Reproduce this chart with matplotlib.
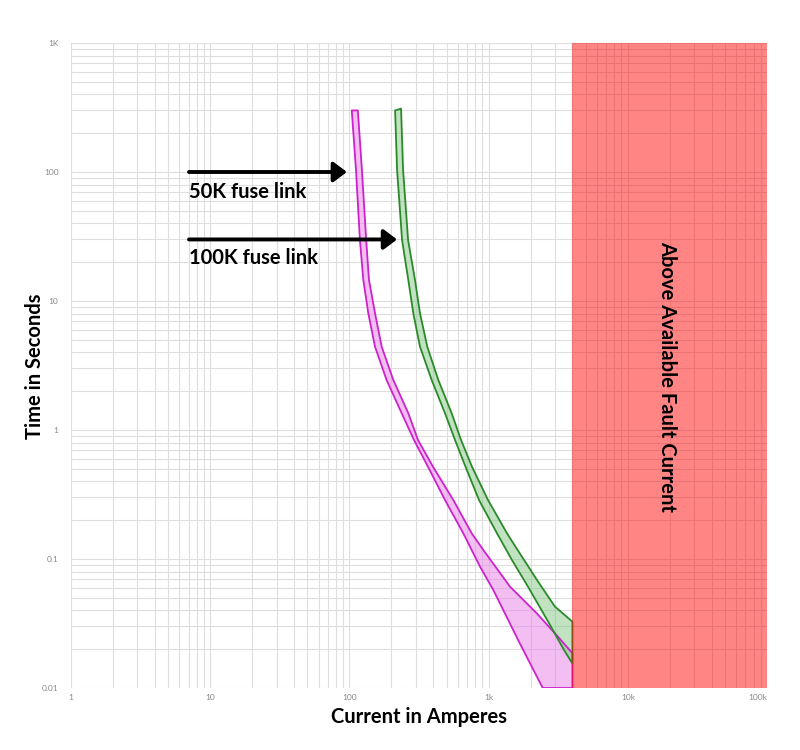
# Fuse link time-current curves, 50K vs 100K, with the fault current limit shaded
import matplotlib
matplotlib.use("Agg")
import matplotlib.pyplot as plt
from matplotlib.ticker import FixedLocator, LogLocator, NullFormatter

# 50K fuse link: minimum melt and total clearing curves (amps, seconds)
amps_50k_melt = [104, 111.5, 119, 125.9, 136.7, 152.8, 185, 237.5, 291, 367, 486,
                 658, 868, 1081, 1675, 2448]
time_50k_melt = [300, 104, 29.7, 14.55, 8.03, 4.42, 2.44, 1.348, 0.837, 0.519, 0.2867,
                 0.1582, 0.0872, 0.0575, 0.0222, 0.01]
amps_50k_clear = [115, 123, 132, 138.3, 152.8, 170.6, 206.8, 265, 311, 398.6, 557.7,
                  756, 916, 1426, 2214, 3151, 4000]
time_50k_clear = [300, 104, 29.7, 14.55, 8.03, 4.42, 2.44, 1.348, 0.837, 0.519, 0.2867,
                  0.1582, 0.1175, 0.061, 0.038, 0.025, 0.0186]

# 100K fuse link
amps_100k_melt = [213, 220, 239, 265, 287.8, 321.5, 390, 486.2, 573.6, 682.8, 853.1,
                  1149, 1473, 1919, 2717, 3481, 4000]
time_100k_melt = [300, 104, 29.7, 14.55, 8.03, 4.42, 2.44, 1.348, 0.837, 0.519, 0.2867,
                  0.1582, 0.098, 0.061, 0.0318, 0.0197, 0.0155]
amps_100k_clear = [235, 243, 264, 296, 321.5, 362.8, 435.3, 543, 633.7, 760, 990,
                   1356, 1561, 2227, 2999, 4000]
time_100k_clear = [310, 104, 29.7, 14.55, 8.03, 4.42, 2.44, 1.348, 0.837, 0.519, 0.2867,
                   0.1582, 0.1245, 0.0687, 0.0427, 0.0327]

fault_current = 4000
x_ticks = [1, 10, 100, 1000, 10000, 100000]
x_tick_labels = ['1', '10', '100', '1k', '10k', '100k']
y_ticks = [0.01, 0.1, 1, 10, 100, 1000]
y_tick_labels = ['0.01', '0.1', '1', '10', '100', '1K']

plt.rcParams['font.family'] = ['Lato', 'DejaVu Sans']

fig = plt.figure(figsize=(8, 7.5), dpi=100)
ax = fig.add_axes([71 / 800, 1 - 688 / 750, 696 / 800, 645 / 750])
ax.set_xscale('log')
ax.set_yscale('log')
ax.set_xlim(1, 100000)
ax.set_ylim(0.01, 1000)

ax.xaxis.set_major_locator(FixedLocator(x_ticks))
ax.yaxis.set_major_locator(FixedLocator(y_ticks))
ax.xaxis.set_minor_locator(LogLocator(base=10, subs=range(2, 10), numticks=20))
ax.yaxis.set_minor_locator(LogLocator(base=10, subs=range(2, 10), numticks=20))
ax.xaxis.set_minor_formatter(NullFormatter())
ax.yaxis.set_minor_formatter(NullFormatter())
ax.set_xticklabels(x_tick_labels)
ax.set_yticklabels(y_tick_labels)
ax.tick_params(which='both', length=0, labelsize=6, labelcolor='#888888')
ax.tick_params(axis='y', pad=9)
ax.tick_params(axis='x', pad=4)
ax.get_xticklabels()[-1].set_ha('right')

ax.grid(True, which='both', color='#dedede', lw=0.8)
ax.set_axisbelow(True)
for s in ax.spines.values():
    s.set_visible(False)


def band(melt_x, melt_y, clear_x, clear_y):
    xs = list(melt_x)
    ys = list(melt_y)
    if melt_x[-1] < fault_current:
        xs.append(fault_current)
        ys.append(melt_y[-1])
    xs += clear_x[::-1]
    ys += clear_y[::-1]
    return xs, ys


x50, y50 = band(amps_50k_melt, time_50k_melt, amps_50k_clear, time_50k_clear)
ax.fill(x50, y50, facecolor='#e880e8', alpha=0.5, edgecolor='none', zorder=2)
ax.fill(x50, y50, facecolor='none', edgecolor='#cc22cc', lw=1.3, joinstyle='round', zorder=3)

x100, y100 = band(amps_100k_melt, time_100k_melt, amps_100k_clear, time_100k_clear)
ax.fill(x100, y100, facecolor='#86c886', alpha=0.5, edgecolor='none', zorder=2)
ax.fill(x100, y100, facecolor='none', edgecolor='#2a8a2a', lw=1.3, joinstyle='round', zorder=3)

ax.axvspan(fault_current, 100000, color='red', alpha=0.48, lw=0, zorder=4)
ax.text(19140, 2.6, 'Above Available Fault Current', rotation=270, ha='center',
        va='center', fontsize=14.5, fontweight='bold', zorder=5)

arrow = dict(arrowstyle='-|>,head_length=0.4,head_width=0.3', lw=2.8, color='black',
             mutation_scale=20, shrinkA=0, shrinkB=0)
ax.annotate('', xy=(96, 100), xytext=(7.04, 100), arrowprops=arrow, zorder=6)
ax.text(7.04, 70, '50K fuse link', ha='left', va='center', fontsize=14.5, fontweight='bold')
ax.annotate('', xy=(220, 30), xytext=(7.04, 30), arrowprops=arrow, zorder=6)
ax.text(7.04, 21.5, '100K fuse link', ha='left', va='center', fontsize=14.5, fontweight='bold')

fig.text(419 / 800, 1 - 717 / 750, 'Current in Amperes', ha='center', va='center',
         fontsize=14.5, fontweight='bold')
fig.text(35 / 800, 1 - 366 / 750, 'Time in Seconds', ha='center', va='center',
         rotation=90, fontsize=14.5, fontweight='bold')

fig.savefig('out.png', dpi=100)
